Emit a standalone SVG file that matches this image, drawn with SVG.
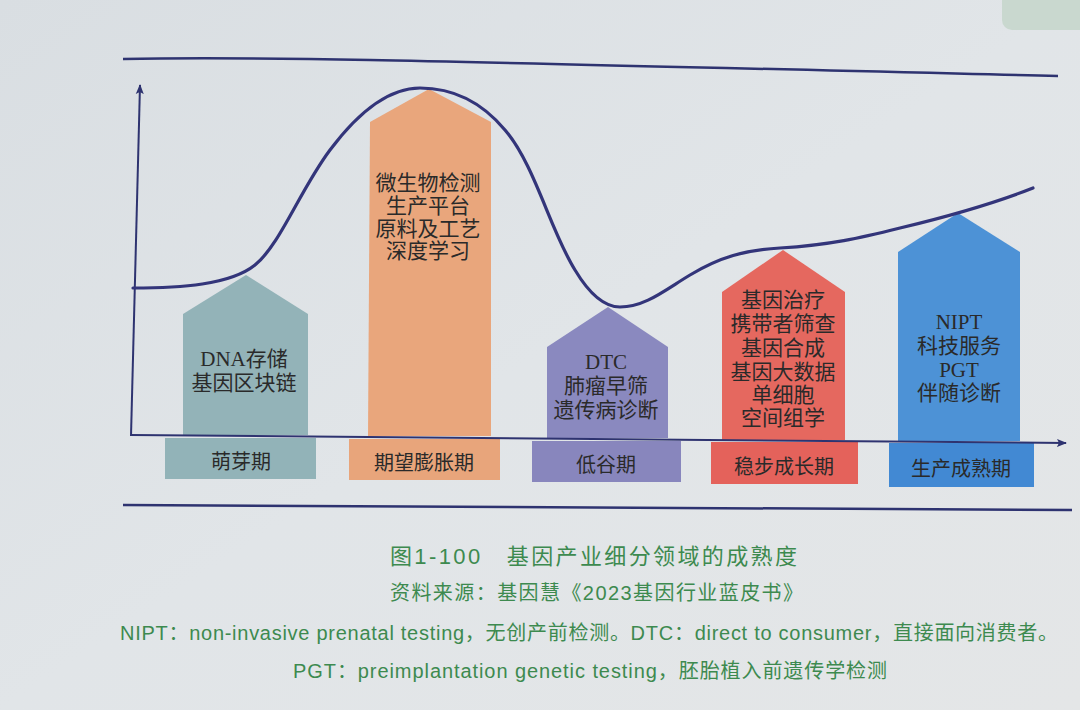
<svg xmlns="http://www.w3.org/2000/svg" width="1080" height="710" viewBox="0 0 1080 710">
<defs>
<linearGradient id="bg" x1="0" y1="0" x2="1" y2="1">
<stop offset="0" stop-color="#d9dee2"/>
<stop offset="0.5" stop-color="#e1e5e8"/>
<stop offset="1" stop-color="#e4e6e7"/>
</linearGradient>
<marker id="arr" viewBox="0 0 10 10" refX="9" refY="5" markerWidth="10" markerHeight="10" orient="auto-start-reverse" markerUnits="userSpaceOnUse">
<path d="M0,1 L10,5 L0,9 L2,5 Z" fill="#2e3370"/>
</marker>
<style>
.lbl{font-family:"Liberation Serif","Noto Sans CJK SC",serif;font-size:21px;fill:#2a2a2a;text-anchor:middle;dominant-baseline:central}
.stage{font-family:"Noto Sans CJK SC","Liberation Sans",sans-serif;font-size:20px;fill:#2a2a2a;text-anchor:middle;dominant-baseline:central}
.cap{font-family:"Liberation Sans","Noto Sans CJK SC",sans-serif;fill:#3d8a4f;dominant-baseline:central}
.ax{stroke:#2e3370;stroke-width:2;fill:none}
</style>
</defs>
<rect width="1080" height="710" fill="url(#bg)"/>
<rect x="1002" y="-12" width="90" height="42" rx="10" fill="#c9d8cf"/>

<path d="M123,59 C250,56 400,60 1058,76" stroke="#2e3370" stroke-width="2.5" fill="none"/>
<path d="M123,505 L1072,510" stroke="#2e3370" stroke-width="2.5" fill="none"/>

<g id="stage1">
<path d="M183,435 L183,314 L246,275 L308,314 L308,435 Z" fill="#93b3b8"/>
<rect x="165" y="438" width="151" height="41" fill="#92b3b8"/>
<text class="lbl" x="244" y="359">DNA存储</text>
<text class="lbl" x="244" y="383">基因区块链</text>
<text class="stage" x="241" y="460">萌芽期</text>
</g>

<g id="stage2">
<path d="M368,436 L370,122 L429,89 L491,122 L491,436 Z" fill="#e9a67c"/>
<rect x="349" y="439" width="151" height="41" fill="#e8a57b"/>
<text class="lbl" x="428" y="183">微生物检测</text>
<text class="lbl" x="428" y="206">生产平台</text>
<text class="lbl" x="428" y="229">原料及工艺</text>
<text class="lbl" x="428" y="251">深度学习</text>
<text class="stage" x="424" y="461">期望膨胀期</text>
</g>

<g id="stage3">
<path d="M547,438 L547,347 L608,307 L668,347 L668,438 Z" fill="#8a89bf"/>
<rect x="532" y="441" width="149" height="41" fill="#8886bd"/>
<text class="lbl" x="606" y="362">DTC</text>
<text class="lbl" x="606" y="386">肺瘤早筛</text>
<text class="lbl" x="606" y="410">遗传病诊断</text>
<text class="stage" x="606" y="463">低谷期</text>
</g>

<g id="stage4">
<path d="M722,440 L722,292 L783,250 L845,292 L845,440 Z" fill="#e5685f"/>
<rect x="711" y="442" width="147" height="42" fill="#e4625b"/>
<text class="lbl" x="783" y="300">基因治疗</text>
<text class="lbl" x="783" y="324">携带者筛查</text>
<text class="lbl" x="783" y="348">基因合成</text>
<text class="lbl" x="783" y="372">基因大数据</text>
<text class="lbl" x="783" y="395">单细胞</text>
<text class="lbl" x="783" y="418">空间组学</text>
<text class="stage" x="784" y="465">稳步成长期</text>
</g>

<g id="stage5">
<path d="M898,441 L898,252 L958,213 L1020,252 L1020,441 Z" fill="#4d92d6"/>
<rect x="889" y="443" width="145" height="44" fill="#4289d3"/>
<text class="lbl" x="959" y="322">NIPT</text>
<text class="lbl" x="959" y="346">科技服务</text>
<text class="lbl" x="959" y="370">PGT</text>
<text class="lbl" x="959" y="393">伴随诊断</text>
<text class="stage" x="961" y="467">生产成熟期</text>
</g>

<g id="connectors">
<path class="ax" d="M131,436 L140,85" marker-end="url(#arr)"/>
<path class="ax" d="M131,435 L1066,443" marker-end="url(#arr)"/>
<path d="M133,288 C180,288 230,285 255,265 C280,245 300,190 330,150 C360,110 390,88 420,88 C450,88 480,100 505,130 C535,165 550,230 575,270 C590,295 605,307 620,307 C645,307 665,290 690,275 C720,257 745,250 780,248 C830,245 860,238 900,228 C950,216 990,205 1033,188" stroke="#33357a" stroke-width="3.2" fill="none" stroke-linecap="round"/>
</g>

<g id="caption">
<text class="cap" x="390" y="556" font-size="22" textLength="407" lengthAdjust="spacing">图1-100　基因产业细分领域的成熟度</text>
<text class="cap" x="390" y="593" font-size="20" textLength="413" lengthAdjust="spacing">资料来源：基因慧《2023基因行业蓝皮书》</text>
<text class="cap" x="120" y="633" font-size="20" textLength="938" lengthAdjust="spacing">NIPT：non-invasive prenatal testing，无创产前检测。DTC：direct to consumer，直接面向消费者。</text>
<text class="cap" x="293" y="671" font-size="20" textLength="594" lengthAdjust="spacing">PGT：preimplantation genetic testing，胚胎植入前遗传学检测</text>
</g>
</svg>
